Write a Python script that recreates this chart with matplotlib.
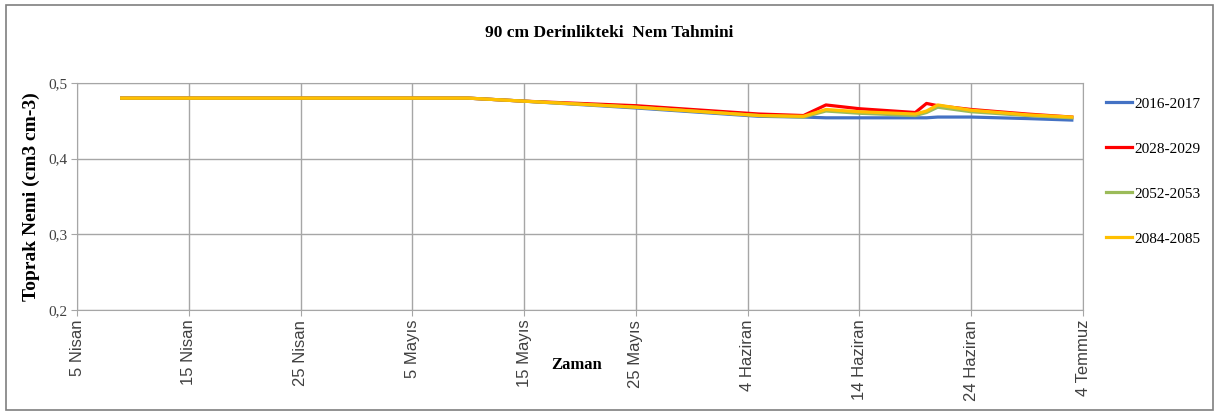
import matplotlib
matplotlib.use("Agg")
import matplotlib.pyplot as plt
from matplotlib.patches import Rectangle

# gün numarası: 0 = 5 Nisan
days = [4, 35, 40, 50, 61, 65, 67, 70, 75, 76, 77, 80, 85, 89]
s2016 = [.480, .480, .476, .467, .456, .455, .454, .454, .454, .454, .455, .455, .453, .451]
s2028 = [.480, .480, .476, .470, .459, .457, .471, .466, .461, .473, .470, .465, .459, .455]
s2052 = [.480, .480, .476, .468, .457, .455, .463, .460, .457, .461, .468, .462, .457, .454]
s2084 = [.480, .480, .476, .468, .457, .456, .465, .462, .459, .463, .471, .464, .458, .455]
labels = ["2016-2017", "2028-2029", "2052-2053", "2084-2085"]

tick_days = [0, 10, 20, 30, 40, 50, 60, 70, 80, 90]
tick_labels = ["5 Nisan", "15 Nisan", "25 Nisan", "5 Mayıs", "15 Mayıs", "25 Mayıs",
               "4 Haziran", "14 Haziran", "24 Haziran", "4 Temmuz"]
y_ticks = [0.2, 0.3, 0.4, 0.5]
y_labels = ["0,2", "0,3", "0,4", "0,5"]

BLUE, RED, GREEN, YELLOW = "#4472C4", "#FF0000", "#9BBB59", "#FFC000"
GRID = "#A6A6A6"
SERIF = "Liberation Serif"

fig = plt.figure(figsize=(12.19, 4.15), dpi=100)
ax = fig.add_axes([77 / 1219, 1 - 310 / 415, (1083 - 77) / 1219, (310 - 83) / 415])

for vals, col, lab in zip([s2016, s2028, s2052, s2084], [BLUE, RED, GREEN, YELLOW], labels):
    ax.plot(days, vals, color=col, lw=2.3, label=lab, solid_joinstyle="round")

ax.set_xlim(0, 90); ax.set_ylim(0.2, 0.5)
ax.set_xticks(tick_days)
ax.set_xticklabels(tick_labels, rotation=90, family="Liberation Sans", fontsize=12, color="#404040")
ax.set_yticks(y_ticks)
ax.set_yticklabels(y_labels, family=SERIF, fontsize=11, color="#404040")
ax.grid(True, color=GRID, lw=1)
ax.set_axisbelow(True)
for sp in ax.spines.values():
    sp.set_color(GRID)
ax.tick_params(axis="both", length=4, color=GRID, pad=3)

ax.set_ylabel("Toprak Nemi (cm3 cm-3)", family=SERIF, fontweight="bold", fontsize=14, labelpad=6)
fig.text(577 / 1219, 1 - 365 / 415, "Zaman", family=SERIF, fontweight="bold", fontsize=12,
         ha="center", va="center")
fig.text(0.5, 1 - 33 / 415, "90 cm Derinlikteki  Nem Tahmini", family=SERIF, fontweight="bold",
         fontsize=12.5, ha="center", va="center")

fig.legend(loc="upper left", bbox_to_anchor=(1106 / 1219, 1 - 97 / 415), frameon=False,
           prop={"family": SERIF, "size": 11}, handlelength=1.7, handletextpad=0.15,
           labelspacing=2.05, borderpad=0, borderaxespad=0)

fig.patches.append(Rectangle((0.005, 0.012), 0.99, 0.975, transform=fig.transFigure,
                             fill=False, edgecolor="#7F7F7F", lw=1.2))

fig.savefig("out.png", dpi=100)
